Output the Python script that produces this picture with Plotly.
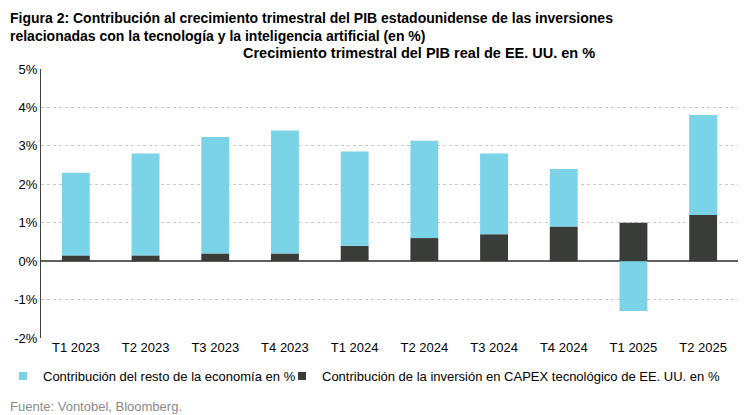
import plotly.graph_objects as go

# Datos (puntos porcentuales)
trimestres = ["T1 2023", "T2 2023", "T3 2023", "T4 2023", "T1 2024",
              "T2 2024", "T3 2024", "T4 2024", "T1 2025", "T2 2025"]
capex_tec = [0.15, 0.15, 0.2, 0.2, 0.4, 0.6, 0.7, 0.9, 1.0, 1.2]
resto_economia = [2.15, 2.65, 3.03, 3.2, 2.45, 2.53, 2.1, 1.5, -1.3, 2.6]
y_ticks = [5, 4, 3, 2, 1, 0, -1, -2]
y_labels = ["5%", "4%", "3%", "2%", "1%", "0%", "-1%", "-2%"]

nombre_resto = "Contribución del resto de la economía en %"
nombre_capex = "Contribución de la inversión en CAPEX tecnológico de EE. UU. en %"
color_resto = "#7ad3e6"
color_capex = "#3a3c3a"

# la página deja ~8 px de margen alrededor de la figura
OFF = 8
W, H = 752, 415
L, R, T, B = 41 - OFF, W - (738 - OFF), 69 - OFF, H - (338 - OFF)
PW, PH = W - L - R, H - T - B


def px_x(x):
    return (x - OFF - L) / PW


def px_y(y):
    return (H - B - (y - OFF)) / PH


fig = go.Figure()
fig.add_bar(x=trimestres, y=capex_tec, name=nombre_capex, showlegend=False,
            marker=dict(color=color_capex, line=dict(width=0)), width=0.4)
fig.add_bar(x=trimestres, y=resto_economia, name=nombre_resto, showlegend=False,
            marker=dict(color=color_resto, line=dict(width=0)), width=0.4)

# entradas de leyenda con cuadrados pequeños, como en el original
fig.add_scatter(x=[None], y=[None], mode="markers", name=nombre_resto, legend="legend",
                marker=dict(symbol="square", size=8, color=color_resto))
fig.add_scatter(x=[None], y=[None], mode="markers", name=nombre_capex, legend="legend2",
                marker=dict(symbol="square", size=8, color=color_capex))

leg_common = dict(orientation="h", yanchor="middle", xanchor="left",
                  font=dict(size=13), itemwidth=30, bgcolor="rgba(0,0,0,0)",
                  itemsizing="trace")

fig.update_layout(
    width=W, height=H,
    margin=dict(l=L, r=R, t=T, b=B, autoexpand=False),
    barmode="relative",
    plot_bgcolor="white", paper_bgcolor="white",
    font=dict(family="Liberation Sans, Arial, sans-serif", size=13, color="#000000"),
    showlegend=True,
    legend=dict(x=px_x(3), y=px_y(376), **leg_common),
    legend2=dict(x=px_x(282), y=px_y(376), **leg_common),
    xaxis=dict(showgrid=False, showline=False, ticks="", tickfont=dict(size=13), automargin=False),
    yaxis=dict(range=[-2, 5], tickvals=y_ticks, ticktext=y_labels,
               showgrid=True, gridcolor="#c8c8c8", griddash="dot", gridwidth=1,
               showline=True, linecolor="#404040", linewidth=1,
               zeroline=True, zerolinecolor="#606060", zerolinewidth=1.5,
               ticks="", tickfont=dict(size=13), automargin=False),
    annotations=[
        dict(text="<b>Figura 2: Contribución al crecimiento trimestral del PIB estadounidense de las inversiones<br>"
                  "relacionadas con la tecnología y la inteligencia artificial (en %)</b>",
             xref="paper", yref="paper", x=px_x(OFF), y=px_y(OFF),
             xanchor="left", yanchor="top", align="left", showarrow=False,
             font=dict(size=14)),
        dict(text="<b>Crecimiento trimestral del PIB real de EE. UU. en %</b>",
             xref="paper", yref="paper", x=px_x(419), y=px_y(53),
             xanchor="center", yanchor="middle", showarrow=False,
             font=dict(size=14.5)),
        dict(text="Fuente: Vontobel, Bloomberg.",
             xref="paper", yref="paper", x=px_x(OFF), y=px_y(406),
             xanchor="left", yanchor="middle", showarrow=False,
             font=dict(size=13, color="#8a8a8a")),
    ],
)

fig.write_html("out.html")
